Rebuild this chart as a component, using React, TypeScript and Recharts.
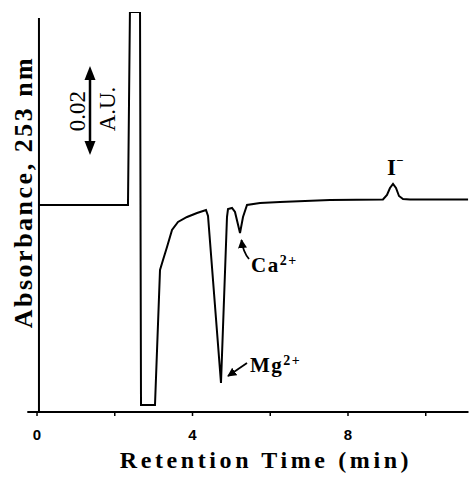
import React from 'react';
import { LineChart, Line, XAxis, YAxis, ReferenceLine, Customized } from 'recharts';

// Retention time (min) and detector signal (arbitrary units, 1 unit ≈ 0.0235 AU)
const retentionTime = [
  0.05, 2.34, 2.39, 2.65, 2.675, 3.035, 3.164, 3.241, 3.344, 3.473, 3.627, 3.859,
  4.116, 4.347, 4.399, 4.733, 4.887, 4.913, 5.016, 5.093, 5.222, 5.299, 5.402,
  5.736, 6.251, 7.537, 8.9, 9.003, 9.08, 9.158, 9.235, 9.312, 9.415, 9.595, 11.09,
];
const signal = [
  2.07, 2.07, 4.0, 4.0, 0.07, 0.07, 1.42, 1.52, 1.65, 1.82, 1.9, 1.95,
  1.99, 2.02, 1.96, 0.29, 1.95, 2.03, 2.04, 2.0, 1.79, 1.95, 2.07,
  2.09, 2.1, 2.12, 2.125, 2.17, 2.24, 2.28, 2.24, 2.16, 2.13, 2.125, 2.125,
];
const tickValues = [0, 2, 4, 6, 8, 10];
const labeledTicks = [0, 4, 8];
const mgPeakTime = 4.733;
const caPeakTime = 5.222;
const iPeakTime = 9.158;

const data = retentionTime.map((t, i) => ({ t, a: signal[i] }));

const W = 475;
const H = 482;
const X_DOMAIN: [number, number] = [-0.25, 11.1];
const Y_DOMAIN: [number, number] = [0, 4.0];
const MARGIN = { top: 12, right: 6.5, left: 27.3, bottom: 40 };
const XAXIS_H = 30;
const plotLeft = MARGIN.left;
const plotRight = W - MARGIN.right;
const plotTop = MARGIN.top;
const plotBottom = H - MARGIN.bottom - XAXIS_H;
const px = (x: number) => plotLeft + ((x - X_DOMAIN[0]) / (X_DOMAIN[1] - X_DOMAIN[0])) * (plotRight - plotLeft);
const py = (v: number) => plotBottom - ((v - Y_DOMAIN[0]) / (Y_DOMAIN[1] - Y_DOMAIN[0])) * (plotBottom - plotTop);
const valAt = (t: number) => signal[retentionTime.indexOf(t)];

const serif = '"Liberation Serif", "Times New Roman", serif';

const Annotations = () => {
  const mgX = px(mgPeakTime), mgY = py(valAt(mgPeakTime));
  const caX = px(caPeakTime), caY = py(valAt(caPeakTime));
  const iX = px(iPeakTime), iY = py(valAt(iPeakTime));
  return (
    <g>
      <defs>
        <marker id="ah" viewBox="0 0 10 10" refX="9" refY="5" markerWidth="5" markerHeight="5" orient="auto">
          <path d="M0,0 L10,5 L0,10 z" fill="#000" />
        </marker>
      </defs>
      {/* y-axis title */}
      <text transform="translate(32,192) rotate(-90)" textAnchor="middle" fontFamily={serif} fontWeight="bold" fontSize={26} letterSpacing={2.5} fill="#000">
        Absorbance, 253 nm
      </text>
      {/* x-axis title */}
      <text x={266} y={468} textAnchor="middle" fontFamily={serif} fontWeight="bold" fontSize={24} letterSpacing={3.6} fill="#000">
        Retention Time (min)
      </text>
      {/* scale bar */}
      <line x1={90} y1={76} x2={90} y2={145} stroke="#000" strokeWidth={2.5} />
      <polygon points="90,66 84.5,80 95.5,80" fill="#000" />
      <polygon points="90,155 84.5,141 95.5,141" fill="#000" />
      <text transform="translate(85,111) rotate(-90)" textAnchor="middle" fontFamily={serif} fontSize={23} fill="#000">0.02</text>
      <text transform="translate(115,109) rotate(-90)" textAnchor="middle" fontFamily={serif} fontSize={23} fill="#000">A.U.</text>
      {/* Ca label */}
      <path d={`M${caX + 9},${caY + 26} Q${caX + 3},${caY + 19} ${caX + 1.5},${caY + 7}`} fill="none" stroke="#000" strokeWidth={1.8} markerEnd="url(#ah)" />
      <text x={caX + 11} y={caY + 39} fontFamily={serif} fontWeight="bold" fontSize={21} letterSpacing={1.5} fill="#000">
        Ca<tspan fontSize={14} dy={-7}>2+</tspan>
      </text>
      {/* Mg label */}
      <path d={`M${mgX + 26},${mgY - 20} L${mgX + 7},${mgY - 7}`} fill="none" stroke="#000" strokeWidth={1.8} markerEnd="url(#ah)" />
      <text x={mgX + 29} y={mgY - 11} fontFamily={serif} fontWeight="bold" fontSize={21} letterSpacing={1.5} fill="#000">
        Mg<tspan fontSize={14} dy={-7}>2+</tspan>
      </text>
      {/* I- label */}
      <text x={iX - 6} y={iY - 9} fontFamily={serif} fontWeight="bold" fontSize={23} fill="#000">
        I<tspan fontSize={13} dy={-10}>−</tspan>
      </text>
    </g>
  );
};

export default function App() {
  return (
    <div style={{ position: 'absolute', left: 0, top: 0, width: W, height: H, background: '#fff' }}>
      <LineChart width={W} height={H} data={data} margin={MARGIN}>
        <XAxis
          type="number"
          dataKey="t"
          domain={X_DOMAIN}
          allowDataOverflow
          ticks={tickValues}
          tickFormatter={(v: number) => (labeledTicks.includes(v) ? String(v) : '')}
          height={XAXIS_H}
          axisLine={{ stroke: '#000', strokeWidth: 2 }}
          tickLine={{ stroke: '#000', strokeWidth: 1.5 }}
          tickSize={4}
          tickMargin={13}
          tick={{ fill: '#000', fontSize: 15, fontWeight: 900, fontFamily: '"Liberation Sans Narrow", "Liberation Sans", Arial, sans-serif' }}
        />
        <YAxis hide type="number" domain={Y_DOMAIN} allowDataOverflow />
        <ReferenceLine
          segment={[{ x: 0.05, y: 0 }, { x: 0.05, y: 3.94 }]}
          stroke="#000"
          strokeWidth={2}
        />
        <Line
          type="linear"
          dataKey="a"
          stroke="#000"
          strokeWidth={2}
          dot={false}
          isAnimationActive={false}
        />
        <Customized component={Annotations} />
      </LineChart>
    </div>
  );
}
